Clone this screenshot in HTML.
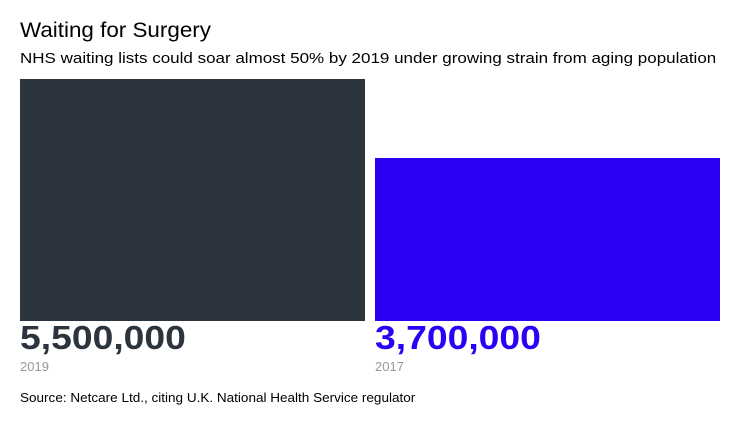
<!DOCTYPE html>
<html><head><meta charset="utf-8"><style>
body{margin:0;width:740px;height:426px;background:#fff;font-family:"Liberation Sans",sans-serif;position:relative;overflow:hidden}
.t,.s,.v,.src{transform-origin:0 0;white-space:nowrap}
.t{position:absolute;left:20px;top:19px;font-size:21px;color:#000;transform:scaleX(1.067)}
.s{position:absolute;left:20px;top:50px;font-size:15px;color:#000;transform:scaleX(1.133)}
.bar{position:absolute}
.v{position:absolute;font-size:33px;font-weight:bold;top:319px;transform:scaleX(1.13)}
.y{position:absolute;font-size:13px;color:#999;top:359px}
.src{position:absolute;left:20px;top:390px;font-size:13px;color:#000;transform:scaleX(1.04)}
</style></head><body>
<div class="t">Waiting for Surgery</div>
<div class="s">NHS waiting lists could soar almost 50% by 2019 under growing strain from aging population</div>
<div id="chart"></div>
<div class="src">Source: Netcare Ltd., citing U.K. National Health Service regulator</div>
<script>
const categories=["2019","2017"];
const values=[5500000,3700000];
const labels=["5,500,000","3,700,000"];
const colors=["#2c353d","#2b00f5"];
const base=321,maxH=242,maxV=5500000;
function yScale(v){return v/maxV*maxH;}
const chart=document.getElementById('chart');
categories.forEach((c,i)=>{
  const x=20+i*355,h=yScale(values[i]);
  const b=document.createElement('div');b.className='bar';
  
  
  b.style.cssText=`left:${x}px;top:${base-h}px;width:345px;height:${h}px;background:${colors[i]}`;
  chart.appendChild(b);
  const v=document.createElement('div');v.className='v';
  
  
  v.style.left=x+'px';v.style.color=colors[i];v.textContent=labels[i];
  chart.appendChild(v);
  const y=document.createElement('div');y.className='y';
  
  
  y.style.left=x+'px';y.textContent=c;
  chart.appendChild(y);
});
</script>
</body></html>
